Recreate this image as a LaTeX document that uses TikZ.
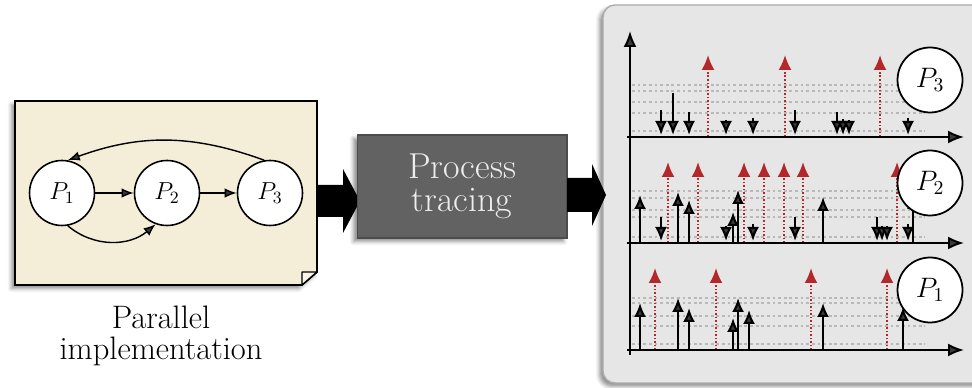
\RequirePackage{fix-cm}
\documentclass[tikz,border=0pt]{standalone}
\usetikzlibrary{arrows.meta,shadows.blur}
\definecolor{paper}{HTML}{F4EDD8}
\definecolor{panel}{HTML}{E6E6E6}
\definecolor{procgray}{HTML}{626262}
\definecolor{evred}{HTML}{B3282B}
\tikzset{
  lproc/.style={circle,draw=black,fill=white,line width=0.9pt,minimum size=1.3cm,inner sep=0pt,font=\fontsize{14}{16}\selectfont},
  rproc/.style={circle,draw=black,fill=white,line width=1pt,minimum size=1.3cm,inner sep=0pt,font=\fontsize{16}{18}\selectfont},
  ledge/.style={line width=0.8pt,-{Latex[length=0.24cm,width=0.19cm]}},
  gridl/.style={gray!55,line width=0.7pt,dash pattern=on 1.6pt off 1.6pt},
  axisl/.style={line width=1.1pt,-{Latex[length=0.32cm,width=0.26cm]}},
  bev/.style={line width=1.2pt,-{Latex[length=0.28cm,width=0.24cm]}},
  redev/.style={evred,line width=1.2pt,dash pattern=on 1pt off 1pt,-{Latex[length=0.3cm,width=0.26cm,sep=0pt]}},
  shd/.style={blur shadow={shadow xshift=-0.07cm,shadow yshift=-0.07cm,shadow blur radius=0.08cm,shadow opacity=45}},
  bigarrow/.style={fill=black}
}
\begin{document}
\begin{tikzpicture}[x=0.02cm,y=0.02cm]
\useasboundingbox (0,0) rectangle (972,388);

% ---- left: parallel implementation sheet
\path[fill=paper,draw=black,line width=1pt,shd]
  (15,103) -- (15,287) -- (317,287) -- (317,116) -- (302,103) -- cycle;
\draw[fill=paper!50!white,line width=0.8pt,line join=round] (302,103) -- (302,116) -- (317,116) -- cycle;

\node[lproc] (P1) at (62,195) {$P_1$};
\node[lproc] (P2) at (167,195) {$P_2$};
\node[lproc] (P3) at (270,195) {$P_3$};
\draw[ledge] (P1) -- (P2);
\draw[ledge] (P2) -- (P3);
\draw[ledge] (P3.100) to[out=160,in=20] (P1.80);
\draw[ledge] (P1.-80) to[out=-40,in=-140] (P2.-110);

\node[align=center,font=\fontsize{18.5}{17.5}\selectfont,text=black] (lbl) at (161,52) {Parallel\\implementation};

% ---- big arrows
\fill[bigarrow] (317,171) -- (343,171) -- (343,155) -- (360,187) -- (343,219) -- (343,203) -- (317,203) -- cycle;

\node[draw=black!70,fill=procgray,line width=0.6pt,minimum width=4.2cm,minimum height=2.06cm,
      align=center,text=white!93!black,font=\fontsize{20.5}{19}\selectfont,shd] (proc) at (462,201.5) {Process\\tracing};

% ---- right panel
\draw[fill=panel,draw=gray!65,line width=0.8pt,rounded corners=0.24cm,shd] (603,5) rectangle (1000,383);

\fill[bigarrow] (567,176) -- (592,176) -- (592,162) -- (606,193) -- (592,224) -- (592,210) -- (567,210) -- cycle;

% grid lines
\foreach \y in {303,297,286,275,257, 197,190,178,171,151, 90,85,72,62,44}
  \draw[gridl] (632,\y) -- (925,\y);

% red events
\foreach \x in {708,785,880} \draw[redev] (\x,251) -- (\x,333);
\foreach \x in {668,698,744,764,784,803,897} \draw[redev] (\x,145) -- (\x,226);
\foreach \x in {655,716,811,887} \draw[redev] (\x,38) -- (\x,120);

% black events P3 (down)
\foreach \x/\t in {661/278,673/295,689/276,726/268,753/270,795/278,837/276,843/269,849/268,908/270}
  \draw[bev] (\x,\t) -- (\x,253);
% P2 up
\foreach \x/\t in {640/193,678/196,689/188,733/176,738/198,823/191,913/193}
  \draw[bev] (\x,145) -- (\x,\t);
% P2 down
\foreach \x/\t in {661/171,726/162,753/164,795/171,877/171,882/162,887/162,908/164}
  \draw[bev] (\x,\t) -- (\x,147);
% P1 up
\foreach \x/\t in {640/85,678/90,689/80,733/70,738/90,749/78,823/85,903/81}
  \draw[bev] (\x,38) -- (\x,\t);

% axes
\draw[axisl] (630,33) -- (630,357);
\foreach \y in {251,145,38} \draw[axisl] (627,\y) -- (964,\y);

\node[rproc] (R3) at (930,308) {$P_3$};
\node[rproc] (R2) at (930,205) {$P_2$};
\node[rproc] (R1) at (930,98) {$P_1$};
\end{tikzpicture}
\end{document}
